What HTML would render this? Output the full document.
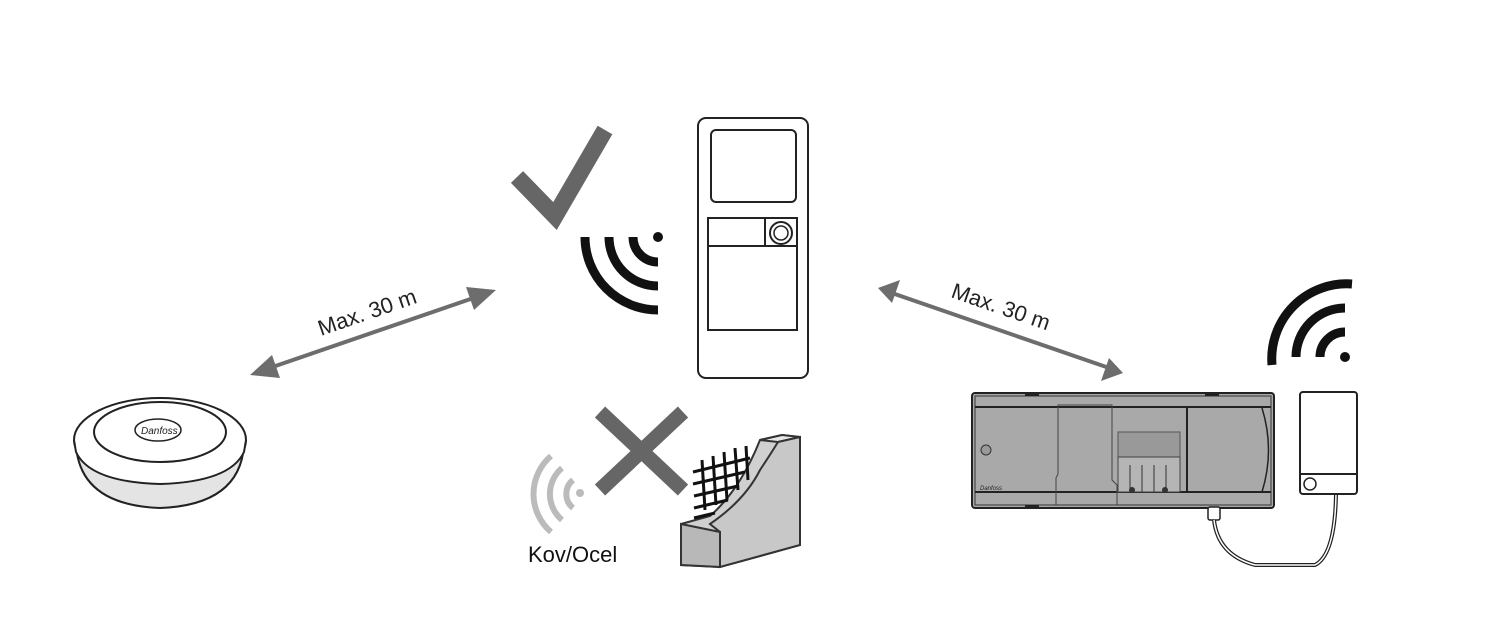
<!DOCTYPE html>
<html><head><style>html,body{margin:0;padding:0;background:#fff}</style></head>
<body>
<svg width="1498" height="634" viewBox="0 0 1498 634" xmlns="http://www.w3.org/2000/svg" font-family="Liberation Sans, sans-serif">
<defs>
<marker id="ah" markerWidth="10" markerHeight="10" refX="6" refY="5" orient="auto" markerUnits="userSpaceOnUse" viewBox="0 0 10 10"><path d="M0,0 L10,5 L0,10 Z" fill="#6d6d6d"/></marker>
</defs>
<!-- checkmark -->
<path d="M517,177 L555,216 L605,130" fill="none" stroke="#666" stroke-width="17"/>
<!-- wifi near thermostat -->
<g fill="none" stroke="#111" stroke-width="9">
<path d="M633,237 A25,25 0 0 0 658,262"/>
<path d="M609,237 A49,49 0 0 0 658,286"/>
<path d="M585,237 A73,73 0 0 0 658,310"/>
</g>
<circle cx="658" cy="237" r="5" fill="#111"/>
<!-- thermostat -->
<rect x="698" y="118" width="110" height="260" rx="8" fill="#fff" stroke="#222" stroke-width="2"/>
<rect x="711" y="130" width="85" height="72" rx="5" fill="#fff" stroke="#222" stroke-width="2"/>
<rect x="708" y="218" width="89" height="112" fill="#fff" stroke="#222" stroke-width="2"/>
<line x1="708" y1="246" x2="797" y2="246" stroke="#222" stroke-width="2"/>
<line x1="765" y1="218" x2="765" y2="246" stroke="#222" stroke-width="2"/>
<circle cx="781" cy="233" r="11" fill="#fff" stroke="#222" stroke-width="2"/>
<circle cx="781" cy="233" r="7" fill="#fff" stroke="#222" stroke-width="1.5"/>
<!-- arrows -->
<line x1="258" y1="372" x2="488" y2="293" stroke="#6d6d6d" stroke-width="4"/>
<path d="M250,375 L272,355 L280,378 Z" fill="#6d6d6d"/>
<path d="M496,290 L474,310 L466,287 Z" fill="#6d6d6d"/>
<text x="0" y="0" font-size="22" fill="#222" transform="translate(321,336) rotate(-19)">Max. 30 m</text>
<line x1="886" y1="291" x2="1115" y2="370" stroke="#6d6d6d" stroke-width="4"/>
<path d="M878,288 L900,280 L892,303 Z" fill="#6d6d6d"/>
<path d="M1123,373 L1101,381 L1109,358 Z" fill="#6d6d6d"/>
<text x="0" y="0" font-size="22" fill="#222" transform="translate(950,297) rotate(19)">Max. 30 m</text>
<!-- hub -->
<path d="M76,445 Q80,505 160,508 Q240,505 244,445" fill="#e4e4e4" stroke="#222" stroke-width="2"/>
<ellipse cx="160" cy="440" rx="86" ry="42" fill="#fff" stroke="#222" stroke-width="2"/>
<path d="M74,440 L76,452 Q90,482 160,484 Q230,482 244,452 L246,440" fill="#fff" stroke="#222" stroke-width="2"/>
<ellipse cx="160" cy="432" rx="66" ry="30" fill="#fff" stroke="#222" stroke-width="2"/>
<ellipse cx="158" cy="430" rx="23" ry="11" fill="#fff" stroke="#222" stroke-width="1.5"/>
<text x="141" y="434" font-size="10" font-style="italic" fill="#222">Danfoss</text>
<!-- cross -->
<g stroke="#666" stroke-width="15"><line x1="600" y1="412" x2="683" y2="490"/><line x1="683" y1="412" x2="600" y2="490"/></g>
<!-- gray wifi -->
<g fill="none" stroke="#bbb" stroke-width="6">
<path d="M573,480 A18,18 0 0 0 573,508"/>
<path d="M562,468 A34,34 0 0 0 562,520"/>
<path d="M551,456 A50,50 0 0 0 551,532"/>
</g>
<circle cx="580" cy="493" r="4" fill="#bbb"/>
<text x="528" y="562" font-size="22" fill="#111">Kov/Ocel</text>
<!-- wall -->
<path d="M681,524 L710,516 Q740,490 760,440 L782,435 L800,437 L800,545 L720,567 L681,565 Z" fill="#d0d0d0" stroke="#333" stroke-width="2"/>
<path d="M760,440 L782,435 L800,437 L778,442 Z" fill="#e8e8e8" stroke="#333" stroke-width="2"/>
<path d="M778,442 L800,437 L800,545 L720,567 L720,532 L710,524 Q745,500 760,470 Q770,455 778,442 Z" fill="#c8c8c8" stroke="#333" stroke-width="2"/>
<path d="M681,524 L720,532 L720,567 L681,565 Z" fill="#b8b8b8" stroke="#333" stroke-width="2"/>
<g stroke="#111" stroke-width="3">
<line x1="702" y1="460" x2="705" y2="510"/><line x1="713" y1="456" x2="716" y2="505"/><line x1="724" y1="452" x2="727" y2="500"/><line x1="735" y1="448" x2="738" y2="490"/><line x1="746" y1="446" x2="748" y2="480"/>
<line x1="693" y1="472" x2="750" y2="458"/><line x1="693" y1="484" x2="745" y2="472"/><line x1="694" y1="496" x2="738" y2="486"/><line x1="694" y1="508" x2="728" y2="500"/><line x1="694" y1="518" x2="715" y2="513"/>
</g>
<!-- controller -->
<rect x="972" y="393" width="302" height="115" rx="3" fill="#a9a9a9" stroke="#222" stroke-width="2"/>
<rect x="975" y="396" width="296" height="109" fill="none" stroke="#333" stroke-width="1"/>
<line x1="975" y1="407" x2="1271" y2="407" stroke="#222" stroke-width="2"/>
<line x1="975" y1="492" x2="1271" y2="492" stroke="#222" stroke-width="2"/>
<line x1="1187" y1="407" x2="1187" y2="492" stroke="#222" stroke-width="2"/>
<path d="M1056,505 L1056,478 L1058,474 L1058,405 L1112,405 L1112,480 L1117,485 L1117,505" fill="none" stroke="#444" stroke-width="1"/>
<rect x="1118" y="432" width="62" height="25" fill="#999" stroke="#555"/>
<rect x="1118" y="457" width="62" height="35" fill="#b5b5b5" stroke="#444"/>
<g stroke="#333" stroke-width="1"><line x1="1130" y1="465" x2="1130" y2="492"/><line x1="1142" y1="465" x2="1142" y2="492"/><line x1="1154" y1="465" x2="1154" y2="492"/><line x1="1166" y1="465" x2="1166" y2="492"/></g>
<circle cx="1132" cy="490" r="3" fill="#333"/><circle cx="1165" cy="490" r="3" fill="#333"/>
<circle cx="986" cy="450" r="5" fill="#999" stroke="#333"/>
<path d="M1262,408 Q1275,450 1262,492" fill="none" stroke="#222" stroke-width="1.5"/>
<text x="980" y="490" font-size="6" font-style="italic" fill="#222">Danfoss</text>
<rect x="1025" y="393" width="14" height="3" fill="#222"/><rect x="1205" y="393" width="14" height="3" fill="#222"/><rect x="1025" y="505" width="14" height="3" fill="#222"/>
<!-- cable -->
<rect x="1208" y="507" width="12" height="13" rx="2" fill="#fff" stroke="#222" stroke-width="1.5"/>
<path d="M1214,520 Q1218,555 1255,565 L1315,565 Q1335,555 1336,494" fill="none" stroke="#222" stroke-width="4"/>
<path d="M1214,520 Q1218,555 1255,565 L1315,565 Q1335,555 1336,494" fill="none" stroke="#fff" stroke-width="1.5"/>
<!-- box -->
<rect x="1300" y="392" width="57" height="102" rx="3" fill="#fff" stroke="#222" stroke-width="2"/>
<line x1="1300" y1="474" x2="1357" y2="474" stroke="#222" stroke-width="2"/>
<circle cx="1310" cy="484" r="6" fill="#fff" stroke="#222" stroke-width="1.5"/>
<!-- wifi right -->
<g fill="none" stroke="#111" stroke-width="9">
<path d="M1320,357 A25,25 0 0 1 1345,332"/>
<path d="M1296,357 A49,49 0 0 1 1345,308"/>
<path d="M1272,365 A75,75 0 0 1 1352,284"/>
</g>
<circle cx="1345" cy="357" r="5" fill="#111"/>
</svg>
</body></html>
